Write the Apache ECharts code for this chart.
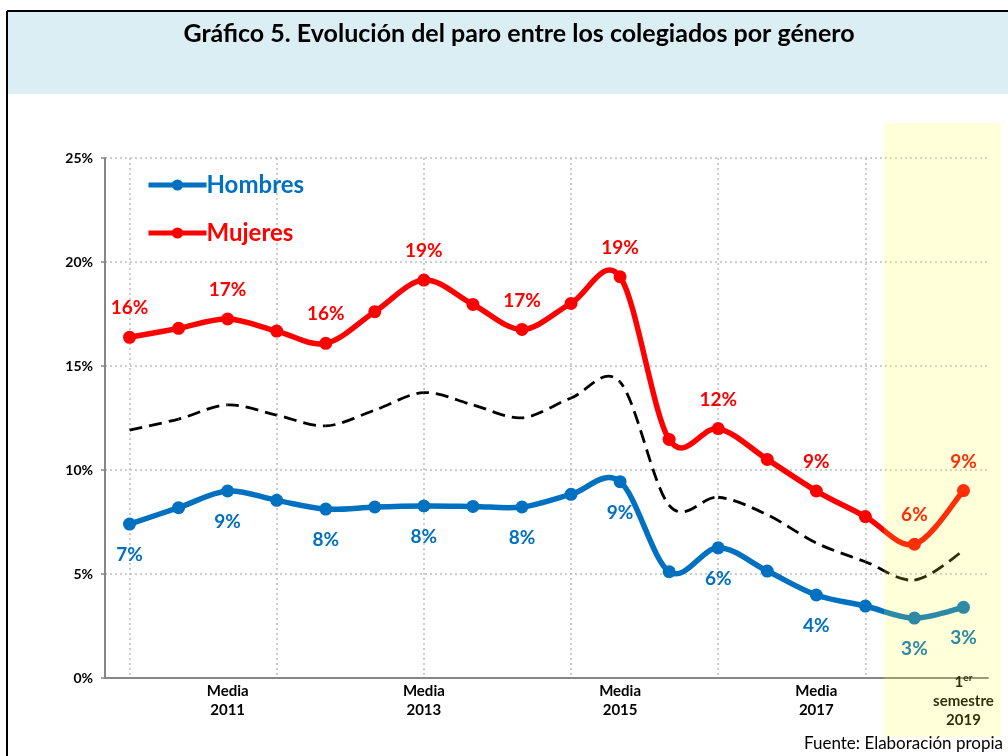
<!DOCTYPE html>
<html lang="es">
  <head>
    <meta charset="UTF-8" />
    <title>Gráfico 5</title>
    <script src="https://cdn.jsdelivr.net/npm/echarts@6/dist/echarts.min.js"></script>
    <style>
      html, body { margin: 0; padding: 0; background: #fff; }
      #box { width: 1008px; height: 756px; }
    </style>
  </head>
  <body>
    <div id="box"></div>
    <script>
      // categorias (18 periodos), solo algunas llevan texto
      var categorias = [
        "", "", "Media\n2011", "", "", "", "Media\n2013", "", "", "",
        "Media\n2015", "", "", "", "Media\n2017", "", "", "1er semestre 2019"
      ];
      var hombres = [7.40, 8.19, 8.99, 8.54, 8.12, 8.22, 8.27, 8.25, 8.22, 8.83,
        9.44, 5.11, 6.26, 5.14, 3.99, 3.46, 2.88, 3.40];
      var mujeres = [16.38, 16.81, 17.26, 16.68, 16.09, 17.61, 19.13, 17.96, 16.76, 18.01,
        19.29, 11.47, 11.99, 10.51, 8.99, 7.76, 6.43, 9.01];
      var total = [11.92, 12.45, 13.13, 12.64, 12.12, 12.88, 13.72, 13.13, 12.51, 13.46,
        14.23, 8.30, 8.69, 7.85, 6.49, 5.59, 4.71, 6.12];
      // puntos con etiqueta
      var conEtiqueta = [0, 2, 4, 6, 8, 10, 12, 14, 16, 17];
      var yTicks = [0, 5, 10, 15, 20, 25];

      var fuente = "Lato, 'Open Sans', sans-serif";
      var azul = "#0070C0";
      var rojo = "#FF0000";

      function etiqueta(p) {
        return conEtiqueta.indexOf(p.dataIndex) >= 0 ? Math.round(p.value) + "%" : "";
      }

      // curva suavizada tipo Excel (Catmull-Rom) sobre las coordenadas del eje
      function curva(nombre, valores, color, ancho, guion) {
        return {
          name: nombre + "_curva",
          type: "custom",
          silent: true,
          z: 2,
          data: valores,
          renderItem: function (params, api) {
            if (params.dataIndex !== 0) return null;
            var pts = valores.map(function (v, i) { return api.coord([i, v]); });
            var hijos = [];
            var offset = 0;
            for (var i = 0; i < pts.length - 1; i++) {
              var p0 = pts[Math.max(i - 1, 0)];
              var p1 = pts[i];
              var p2 = pts[i + 1];
              var p3 = pts[Math.min(i + 2, pts.length - 1)];
              var c1 = [p1[0] + (p2[0] - p0[0]) / 6, p1[1] + (p2[1] - p0[1]) / 6];
              var c2 = [p2[0] - (p3[0] - p1[0]) / 6, p2[1] - (p3[1] - p1[1]) / 6];
              hijos.push({
                type: "bezierCurve",
                shape: { x1: p1[0], y1: p1[1], cpx1: c1[0], cpy1: c1[1], cpx2: c2[0], cpy2: c2[1], x2: p2[0], y2: p2[1] },
                style: {
                  fill: null,
                  stroke: color,
                  lineWidth: ancho,
                  lineCap: guion ? "butt" : "round",
                  lineDash: guion || null,
                  lineDashOffset: offset,
                },
              });
              var cuerda = Math.hypot(p2[0] - p1[0], p2[1] - p1[1]);
              var poli = Math.hypot(c1[0] - p1[0], c1[1] - p1[1]) + Math.hypot(c2[0] - c1[0], c2[1] - c1[1]) + Math.hypot(p2[0] - c2[0], p2[1] - c2[1]);
              offset += (cuerda + poli) / 2;
            }
            return { type: "group", children: hijos };
          },
        };
      }

      var chartDom = document.getElementById("box");
      var myChart = echarts.init(chartDom, null, { renderer: "canvas" });
      var option = {
        animation: false,
        backgroundColor: "#fff",
        title: {
          text: "Gráfico 5. Evolución del paro entre los colegiados por género",
          left: 514,
          textAlign: "center",
          top: 16,
          textStyle: { fontFamily: fuente, fontSize: 25, fontWeight: "bold", color: "#000" },
        },
        legend: {
          orient: "vertical",
          left: 141,
          top: 168,
          itemWidth: 58,
          itemHeight: 14,
          itemGap: 24,
          data: [
            { name: "Hombres", textStyle: { color: azul }, lineStyle: { color: azul, width: 5, opacity: 1 } },
            { name: "Mujeres", textStyle: { color: rojo }, lineStyle: { color: rojo, width: 5, opacity: 1 } },
          ],
          textStyle: { fontFamily: fuente, fontSize: 24, fontWeight: "bold", padding: [0, 0, 0, -5] },
        },
        grid: [
          { left: 105, right: 20, top: 158, bottom: 78 },
          { left: 129.5, right: 44.5, top: 158, bottom: 78 },
        ],
        xAxis: [
          {
            type: "category",
            data: categorias,
            boundaryGap: true,
            axisLine: { lineStyle: { color: "#868686", width: 2 } },
            axisTick: { alignWithLabel: true, length: 5, lineStyle: { color: "#868686", width: 1.5 } },
            splitLine: { show: false },
            axisLabel: {
              interval: 0,
              margin: 23,
              verticalAlign: "middle",
              fontFamily: fuente,
              fontSize: 15,
              fontWeight: "bold",
              color: "#000",
              lineHeight: 19,
              formatter: function (v) {
                if (v.indexOf("1er") === 0) {
                  var partes = v.split(" ");
                  return "{n|1}{sup|er}\n{n|" + partes[1] + "}\n{n|" + partes[2] + "}";
                }
                return v;
              },
              rich: {
                n: { fontFamily: fuente, fontSize: 15, fontWeight: "bold", color: "#000", lineHeight: 19 },
                sup: { fontFamily: fuente, fontSize: 10, fontWeight: "bold", color: "#000", verticalAlign: "top", lineHeight: 19 },
              },
            },
          },
          {
            // rejilla vertical punteada en cada punto
            type: "category",
            gridIndex: 1,
            data: categorias,
            boundaryGap: false,
            axisLine: { show: false },
            axisTick: { show: false },
            axisLabel: { show: false },
            splitLine: { show: true, lineStyle: { color: "#bdbdbd", type: [2, 3], width: 1.5 } },
          },
        ],
        yAxis: [
          {
            type: "value",
            min: 0,
            max: 25,
            interval: 5,
            axisLine: { show: true, lineStyle: { color: "#868686", width: 2 } },
            axisTick: { show: true, length: 4, lineStyle: { color: "#868686", width: 1.5 } },
            axisLabel: {
              margin: 12,
              fontFamily: fuente,
              fontSize: 14,
              fontWeight: "bold",
              color: "#000",
              formatter: function (v) { return yTicks.indexOf(v) >= 0 ? v + "%" : ""; },
            },
            splitLine: { show: true, lineStyle: { color: "#bdbdbd", type: [2, 3], width: 1.5 } },
          },
          { type: "value", gridIndex: 1, min: 0, max: 25, show: false, splitLine: { show: false } },
        ],
        series: [
          curva("Total", total, "#000", 2.8, [13, 7]),
          curva("Hombres", hombres, azul, 5.5, null),
          curva("Mujeres", mujeres, rojo, 5.5, null),
          {
            name: "Hombres",
            type: "line",
            z: 3,
            symbol: "circle",
            symbolSize: 13,
            color: azul,
            lineStyle: { color: azul, width: 0, opacity: 0 },
            itemStyle: { color: azul },
            label: {
              show: true,
              position: "bottom",
              distance: 15,
              formatter: etiqueta,
              color: azul,
              fontFamily: fuente,
              fontSize: 19,
              fontWeight: "bold",
            },
            data: hombres,
          },
          {
            name: "Mujeres",
            type: "line",
            z: 3,
            symbol: "circle",
            symbolSize: 13,
            color: rojo,
            lineStyle: { color: rojo, width: 0, opacity: 0 },
            itemStyle: { color: rojo },
            label: {
              show: true,
              position: "top",
              distance: 13,
              formatter: etiqueta,
              color: rojo,
              fontFamily: fuente,
              fontSize: 19,
              fontWeight: "bold",
            },
            data: mujeres,
          },
        ],
        graphic: [
          // recuadro del titulo
          { type: "rect", z: -10, shape: { x: 7, y: 12, width: 1001, height: 82 }, style: { fill: "#DAEEF3" } },
          { type: "line", z: 5, shape: { x1: 7, y1: 11, x2: 1008, y2: 11 }, style: { stroke: "#000", lineWidth: 2 } },
          { type: "line", z: 5, shape: { x1: 7, y1: 11, x2: 7, y2: 756 }, style: { stroke: "#000", lineWidth: 2 } },
          // resaltado amarillo del ultimo periodo
          { type: "rect", z: 100, silent: true, shape: { x: 884, y: 123, width: 117, height: 614 }, style: { fill: "rgba(255,255,44,0.18)" } },
          {
            type: "text",
            z: 10,
            right: 5,
            top: 735,
            style: { text: "Fuente: Elaboración propia", fontFamily: fuente, fontSize: 17, fill: "#000" },
          },
        ],
      };
      option && myChart.setOption(option);
    </script>
  </body>
</html>
